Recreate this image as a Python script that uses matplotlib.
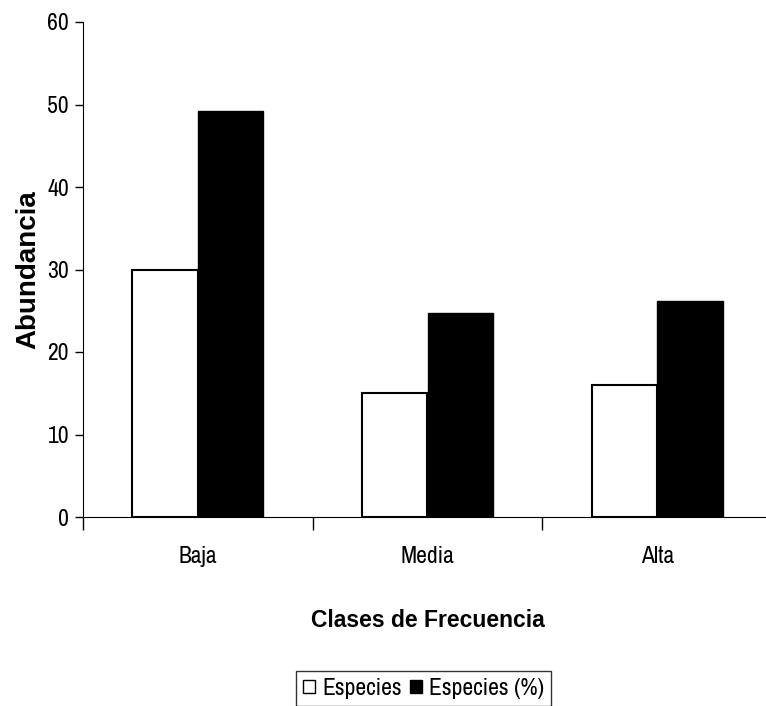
import numpy as np
import matplotlib.pyplot as plt
from matplotlib.patches import Patch
from matplotlib import font_manager

# datos
clases = ['Baja', 'Media', 'Alta']
especies = [30, 15, 16]
especies_pct = [49.2, 24.7, 26.2]
y_ticks = [0, 10, 20, 30, 40, 50, 60]

fonts = font_manager.fontManager.ttflist
estrechas = sorted(set(f.name for f in fonts if 'Narrow' in f.name or 'Condensed' in f.name))
fuente = estrechas[:1] + ['Liberation Sans', 'DejaVu Sans']
fuente_bold = ['Liberation Sans', 'DejaVu Sans']
plt.rcParams['font.family'] = fuente

fig = plt.figure(figsize=[7.66, 7.06], dpi=100)
ax = fig.add_axes([83/766, 189/706, 689/766, 495/706])

x = np.arange(len(clases))
w = 0.285
ax.bar(x - w/2, especies, width=w, color='white', edgecolor='black', linewidth=1.5, label='Especies')
ax.bar(x + w/2, especies_pct, width=w, color='black', edgecolor='black', linewidth=1, label='Especies (%)')

ax.set_xlim(-0.5, 2.5)
ax.set_ylim(0, 60)
ax.set_yticks(y_ticks)
ax.tick_params(axis='y', direction='out', length=6, width=1, labelsize=17, pad=4)

# ticks principales en los limites de cada clase, etiquetas en el centro
ax.set_xticks(np.arange(-0.5, 3.0, 1.0))
ax.set_xticklabels([])
ax.set_xticks(x, minor=True)
ax.set_xticklabels(clases, minor=True, fontsize=17)
ax.tick_params(axis='x', which='major', direction='out', length=9, width=1)
ax.tick_params(axis='x', which='minor', length=0, pad=21)

for s in ['top', 'right']:
    ax.spines[s].set_visible(False)

ax.set_ylabel('Abundancia', fontsize=20, fontweight='bold', family=fuente_bold)
ax.yaxis.set_label_coords(-42/689, 0.5)
ax.set_xlabel('Clases de Frecuencia', fontsize=16.5, fontweight='bold', family=fuente_bold)
ax.xaxis.set_label_coords(345/689, -92/495)

handles = [Patch(facecolor='white', edgecolor='black', linewidth=1),
           Patch(facecolor='black', edgecolor='black', linewidth=1)]
leg = fig.legend(handles, ['Especies', 'Especies (%)'], loc='lower left',
                 bbox_to_anchor=(296/766, 0.0, 253/766, 44/706),
                 ncol=2, fontsize=17, frameon=True, fancybox=False,
                 handlelength=0.5, handleheight=0.5, handletextpad=0.3,
                 columnspacing=0.35, borderpad=0.3, borderaxespad=0)
leg.get_frame().set_edgecolor('black')
leg.get_frame().set_linewidth(1)

plt.savefig('out.png', dpi=100)
